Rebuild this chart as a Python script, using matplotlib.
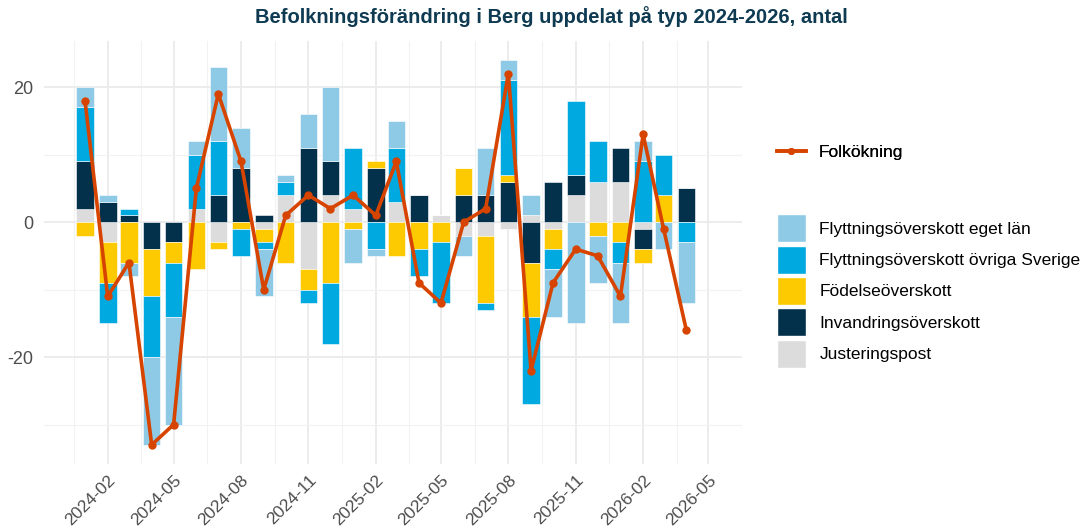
import numpy as np
import pandas as pd
import matplotlib
matplotlib.use("Agg")
import matplotlib.pyplot as plt
import matplotlib.dates as mdates
from matplotlib.lines import Line2D
from matplotlib.patches import Patch

plt.rcParams['font.family'] = ['Liberation Sans', 'DejaVu Sans']
plt.rcParams['axes.unicode_minus'] = False

manader = pd.date_range("2024-01-01", "2026-04-01", freq="MS")

# komponenter per månad
eget_lan = [3, 1, -2, -13, -16, 2, 11, 6, -7, 1, 5, 11, -5, -1, 4, 0, 0, -3, 7, 3, 3, -7, -15, -7, -9, 3, -4, -9]
ovriga_sverige = [8, -6, 1, -9, -8, 8, 8, -4, -1, 2, -2, -9, 9, -4, 8, -4, -9, 0, -1, 14, -13, -3, 11, 6, -3, 9, 6, -3]
fodelse = [-2, -6, -6, -7, -3, -7, -1, -1, -2, -6, -3, -9, -1, 1, -5, -4, -3, 4, -10, 1, -8, -3, 0, -2, -3, -2, 4, 0]
invandring = [7, 3, 1, -4, -3, 0, 4, 8, 1, 0, 11, 5, 0, 8, 0, 4, 0, 4, 4, 6, -6, 6, 3, 0, 5, -3, 0, 5]
justering = [2, -3, 0, 0, 0, 2, -3, 0, -1, 4, -7, 4, 2, 0, 3, 0, 1, -2, -2, -1, 1, -1, 4, 6, 6, -1, 0, 0]
folkokning = [18, -11, -6, -33, -30, 5, 19, 9, -10, 1, 4, 2, 4, 1, 9, -9, -12, 0, 2, 22, -22, -9, -4, -5, -11, 13, -1, -16]

namn = ["Flyttningsöverskott eget län", "Flyttningsöverskott övriga Sverige",
        "Födelseöverskott", "Invandringsöverskott", "Justeringspost"]
farger = ["#8ecae6", "#00a9e0", "#fdc900", "#03304a", "#dcdcdc"]
serier = [eget_lan, ovriga_sverige, fodelse, invandring, justering]

fig = plt.figure(figsize=(10.82, 5.29), dpi=100)
ax = fig.add_axes([44 / 1082, 1 - 464 / 529, (742 - 44) / 1082, (464 - 41) / 529])

# staplas från noll: justering närmast, eget län ytterst
pos_bas = np.zeros(len(manader))
neg_bas = np.zeros(len(manader))
for i in reversed(range(len(serier))):
    v = np.array(serier[i], dtype=float)
    bas = np.where(v >= 0, pos_bas, neg_bas)
    ax.bar(manader, v, bottom=bas, width=24, color=farger[i],
           edgecolor="white", linewidth=0.4, zorder=2)
    pos_bas += np.where(v > 0, v, 0)
    neg_bas += np.where(v < 0, v, 0)

ax.plot(manader, folkokning, color="#d64400", linewidth=2.6, marker="o",
        markersize=5, zorder=3)

ax.set_ylim(-35.85, 26.85)
ax.set_xlim(pd.Timestamp("2023-11-06"), pd.Timestamp("2026-05-26"))
ax.set_yticks([-20, 0, 20])
ax.set_yticks([-30, -10, 10], minor=True)
ax.xaxis.set_major_locator(mdates.MonthLocator(bymonth=[2, 5, 8, 11]))
ax.xaxis.set_major_formatter(mdates.DateFormatter("%Y-%m"))
ax.set_xticks(pd.date_range("2023-11-01", "2026-05-01", freq="3MS") + pd.Timedelta(days=46), minor=True)

ax.grid(True, which="major", color="#ebebeb", linewidth=1.3, zorder=0)
ax.grid(True, which="minor", color="#f2f2f2", linewidth=0.8, zorder=0)
ax.set_axisbelow(True)
for s in ax.spines.values():
    s.set_visible(False)
ax.tick_params(which="both", length=0)
ax.tick_params(axis="y", labelsize=13, labelcolor="#4d4d4d", pad=8)
ax.tick_params(axis="x", labelsize=12.5, labelcolor="#4d4d4d", pad=6)
for lab in ax.get_xticklabels():
    lab.set_rotation(45)
    lab.set_ha("right")
    lab.set_rotation_mode("anchor")

fig.text(551 / 1082, 1 - 17 / 529, "Befolkningsförändring i Berg uppdelat på typ 2024-2026, antal",
         ha="center", va="center", fontsize=14.5, fontweight="bold", color="#0e3a52")

leg1 = fig.legend([Line2D([], [], color="#d64400", linewidth=2.6, marker="o", markersize=4)],
                  ["Folkökning"], loc="center left",
                  bbox_to_anchor=(770 / 1082, 1 - 152 / 529), frameon=False,
                  fontsize=12.5, handlelength=1.65, handletextpad=0.75,
                  borderaxespad=0, borderpad=0.4)
fig.add_artist(leg1)
handtag = [Patch(facecolor=c, edgecolor="white") for c in farger]
fig.legend(handtag, namn, loc="center left", bbox_to_anchor=(770 / 1082, 1 - 291 / 529),
           frameon=False, fontsize=12.5, handlelength=1.7, handleheight=2.1,
           labelspacing=0.2, handletextpad=0.75, borderaxespad=0, borderpad=0.4)

fig.savefig("out.png", dpi=100)
